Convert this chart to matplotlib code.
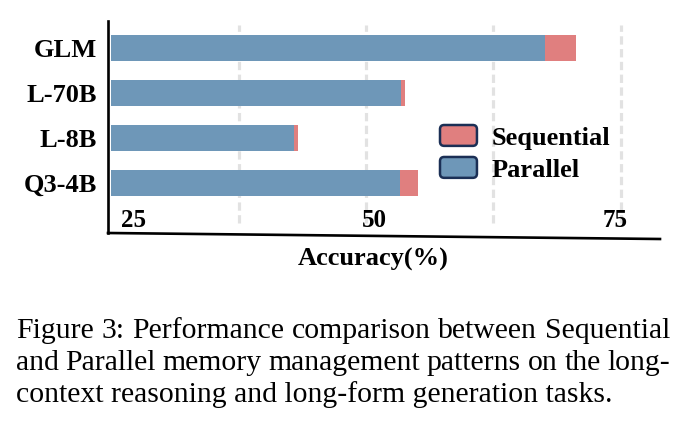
import numpy as np
import matplotlib
matplotlib.use('Agg')
import matplotlib.pyplot as plt
from matplotlib.patches import Patch, FancyBboxPatch
from matplotlib.legend_handler import HandlerPatch
from matplotlib.lines import Line2D

# data
models = ['GLM', 'L-70B', 'L-8B', 'Q3-4B']
sequential = [70.6, 53.8, 43.3, 55.1]
parallel = [67.6, 53.4, 42.9, 53.3]
base = 25
xticks = [25, 50, 75]
xtick_labels = ['25', '50', '75']
grid_x = [37.5, 50, 62.5, 75]

caption_lines = ["Figure 3: Performance comparison between Sequential",
                 "and Parallel memory management patterns on the long-",
                 "context reasoning and long-form generation tasks."]

c_seq = '#e07f7f'
c_par = '#6e97b8'
c_edge = '#1b2f55'
serif = ['Liberation Serif', 'DejaVu Serif']

fig = plt.figure(figsize=(6.91, 4.33), dpi=100)
W, H = 691, 433
ax = fig.add_axes([108 / W, 1 - 233 / H, (660 - 108) / W, (233 - 21) / H])

y = np.arange(len(models))
bh = 0.58
ax.barh(y, np.array(sequential) - base, left=base, height=bh, color=c_seq, zorder=2)
ax.barh(y, np.array(parallel) - base, left=base, height=bh, color=c_par, zorder=3)

ax.set_xlim(24.68, 78.85)
ax.set_ylim(4.11, -0.6)

for gx in grid_x:
    ax.axvline(gx, ymin=0.047, ymax=0.98, color='#e2e2e2', lw=2.3,
               linestyle=(0, (2.6, 1.4)), zorder=1)

ax.set_yticks(y)
ax.set_yticklabels(models, fontsize=19, fontweight='bold', family=serif)
ax.tick_params(axis='y', length=0, pad=8)

# x tick labels sit inside the axes
ax.set_xticks([])
for v, lab, dx in zip(xticks, xtick_labels, [16, 6, -4]):
    ax.annotate(lab, (v, 0.061), xycoords=('data', 'axes fraction'),
                xytext=(dx, 0), textcoords='offset points',
                ha='center', va='center', fontsize=18, fontweight='bold',
                family=serif)

ax.spines['top'].set_visible(False)
ax.spines['right'].set_visible(False)
ax.spines['bottom'].set_visible(False)
ax.spines['left'].set_linewidth(1.9)
ax.spines['left'].set_color('black')
ax.add_line(Line2D([0, 1], [0, -6 / 212], transform=ax.transAxes,
                   color='black', lw=1.9, clip_on=False))

fig.text(373.5 / W, 1 - 259 / H, 'Accuracy(%)', ha='center', va='center',
         fontsize=19, fontweight='bold', family=serif)


class RoundHandler(HandlerPatch):
    def create_artists(self, legend, orig_handle, xdescent, ydescent,
                       width, height, fontsize, trans):
        p = FancyBboxPatch((-xdescent, -ydescent), width, height,
                           boxstyle='round,pad=0,rounding_size=3',
                           fc=orig_handle.get_facecolor(), ec=c_edge, lw=1.8,
                           transform=trans)
        return [p]


handles = [Patch(facecolor=c_seq, label='Sequential'),
           Patch(facecolor=c_par, label='Parallel')]
leg = ax.legend(handles=handles, loc='upper left',
                bbox_to_anchor=(440 / W, 1 - 125 / H),
                bbox_transform=fig.transFigure, frameon=False,
                prop={'family': serif, 'weight': 'bold', 'size': 19},
                handlelength=1.4, handleheight=0.84, handletextpad=0.55,
                labelspacing=0.28, borderpad=0, borderaxespad=0,
                handler_map={Patch: RoundHandler()})

# justified caption (last line left-aligned)
renderer = fig.canvas.get_renderer()
x0, x1 = 16, 670
fs = 21.4
for i, line in enumerate(caption_lines):
    yb = 1 - (338 + 32 * i) / H
    if i == len(caption_lines) - 1:
        fig.text(x0 / W, yb, line, ha='left', va='baseline', fontsize=fs,
                 family=serif)
        continue
    words = line.split(' ')
    objs = [fig.text(0, yb, w, ha='left', va='baseline', fontsize=fs,
                     family=serif) for w in words]
    widths = [t.get_window_extent(renderer).width for t in objs]
    gap = (x1 - x0 - sum(widths)) / (len(words) - 1)
    xp = x0
    for t, wd in zip(objs, widths):
        t.set_x(xp / W)
        xp += wd + gap

fig.savefig('out.png', dpi=100)
